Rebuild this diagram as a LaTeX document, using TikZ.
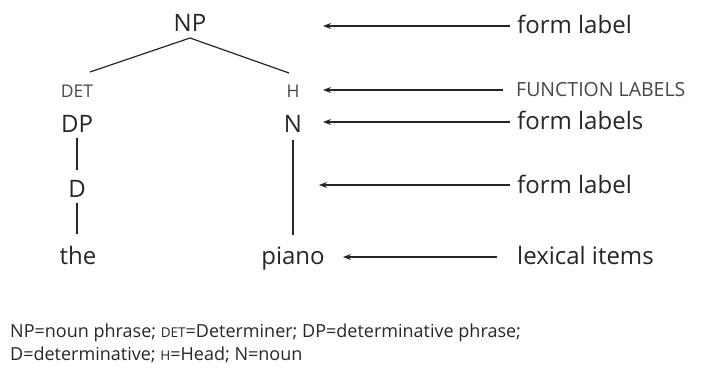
\documentclass[tikz,border=0pt]{standalone}
\usepackage{fontspec}
\setmainfont{Open Sans}
\usetikzlibrary{arrows.meta}
\definecolor{ink}{HTML}{262626}
\newcommand{\mysmallcap}[1]{{\fontsize{13.5}{16}\selectfont #1}}
\begin{document}
\begin{tikzpicture}[x=1pt,y=-1pt,
  lab/.style={font=\fontsize{24}{28}\selectfont, text=ink, inner sep=0pt, anchor=base},
  sc/.style={font=\fontsize{17.5}{20}\selectfont, text=ink!85, inner sep=0pt, anchor=base},
  rlab/.style={font=\fontsize{24}{28}\selectfont, text=ink, inner sep=0pt, anchor=base west},
  rsc/.style={font=\fontsize{19.5}{22}\selectfont, text=ink!85, inner sep=0pt, anchor=base west},
  treeline/.style={draw=ink, line width=1.2pt},
  arr/.style={draw=ink, line width=1.5pt, -{Stealth[length=8pt,width=6pt]}},
  captxt/.style={font=\fontsize{18}{22}\selectfont, text=ink, inner sep=0pt, anchor=base west}
]
\useasboundingbox (0,0) rectangle (713,369);
% tree
\node[lab] (NP) at (190,32) {NP};
\node[sc] (DET) at (77,98) {DET};
\node[lab] (DP) at (77,132) {DP};
\node[lab] (D) at (77,197) {D};
\node[lab] (the) at (78,264) {the};
\node[sc] (H) at (293,98) {H};
\node[lab] (N) at (293,132) {N};
\node[lab] (piano) at (293,264) {piano};
\coordinate (npb) at (190,38);
\coordinate (detl) at (90,72);
\coordinate (hr) at (289,73);
\draw[treeline] (detl) -- (npb) -- (hr);
\draw[treeline] (77,138) -- (77,170);
\draw[treeline] (77,203) -- (77,234);
\draw[treeline] (293,140) -- (293,235);
% right labels
\node[rlab] (r1) at (517,34) {form label};
\node[rsc] (r2) at (516,97) {FUNCTION LABELS};
\node[rlab] (r3) at (517,130) {form labels};
\node[rlab] (r4) at (517,193) {form label};
\node[rlab] (r5) at (517,264) {lexical items};
\coordinate (t1) at (323,26);
\coordinate (t2) at (323,90);
\coordinate (t3) at (323,122);
\coordinate (t4) at (319,185);
\coordinate (t5) at (343,257);
\draw[arr] (510,26) -- (t1);
\draw[arr] (503,90) -- (t2);
\draw[arr] (510,122) -- (t3);
\draw[arr] (510,185) -- (t4);
\draw[arr] (497,257) -- (t5);
% caption
\node[captxt] (cap1) at (10,337) {NP=noun phrase; \mysmallcap{DET}=Determiner; DP=determinative phrase;};
\node[captxt] (cap2) at (10,360) {D=determinative; \mysmallcap{H}=Head; N=noun};
\end{tikzpicture}
\end{document}
